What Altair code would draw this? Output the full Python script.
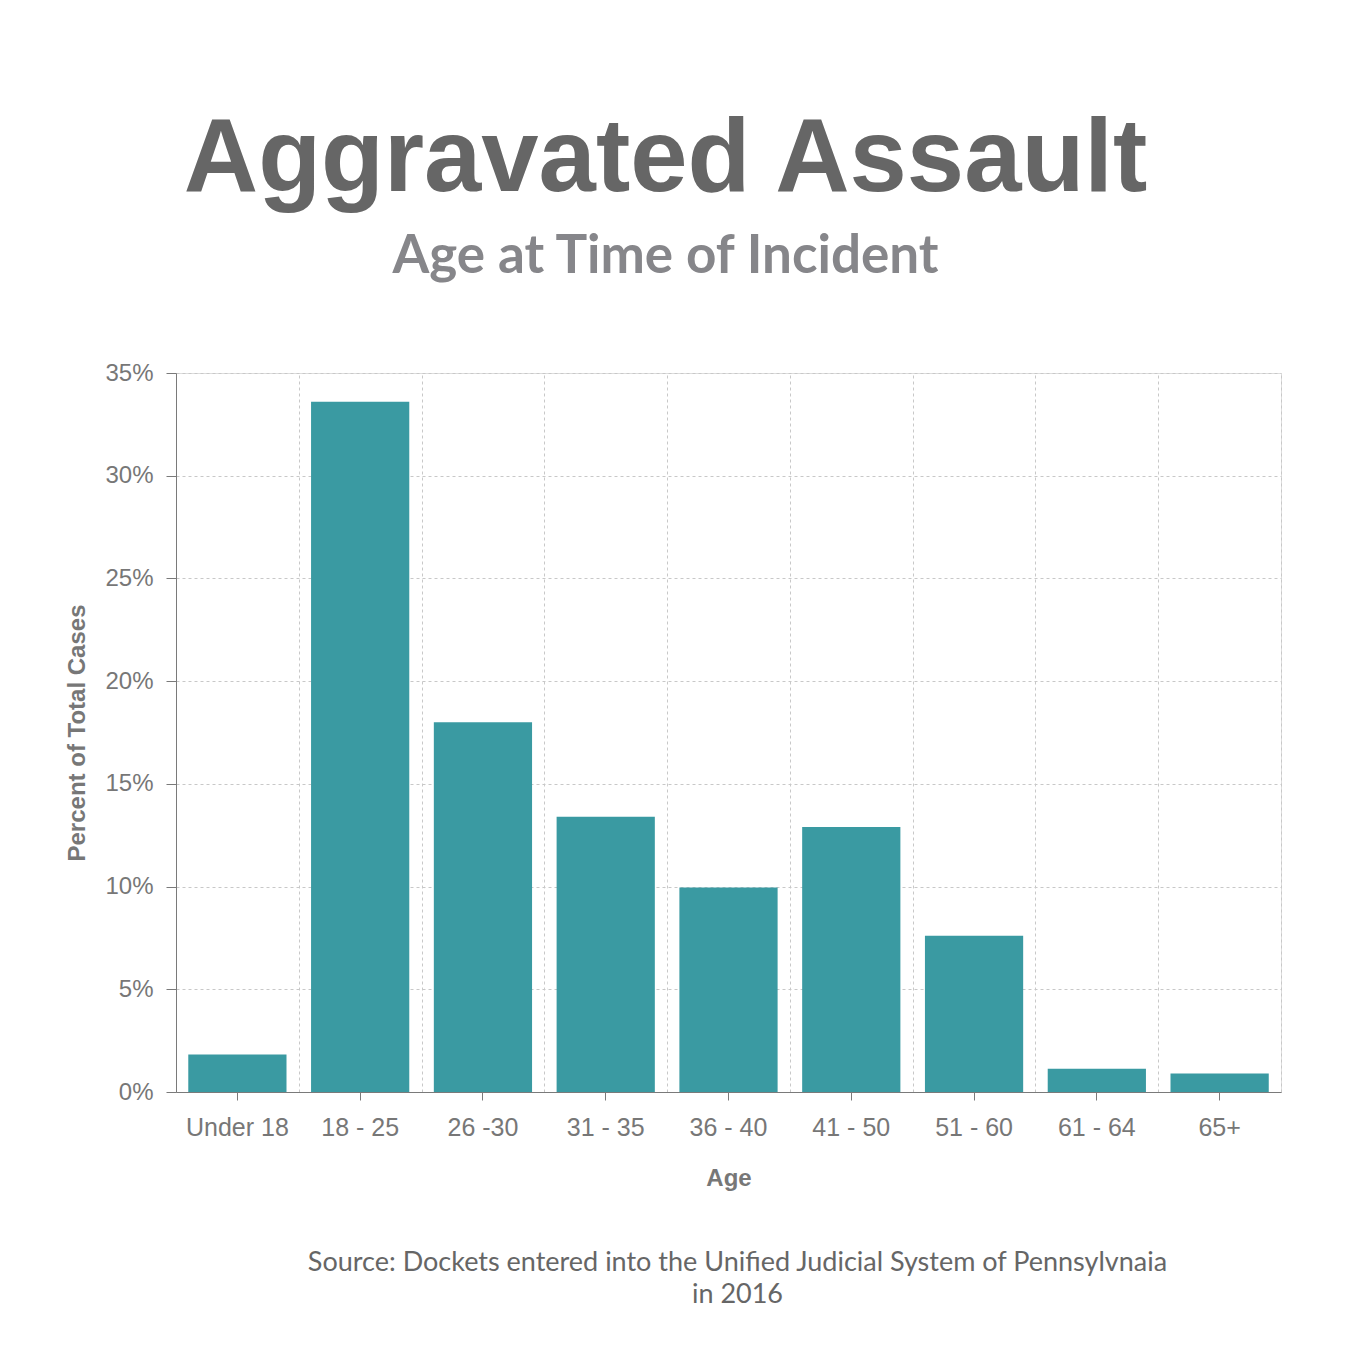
import altair as alt
import pandas as pd

ages = ["Under 18", "18 - 25", "26 -30", "31 - 35", "36 - 40", "41 - 50", "51 - 60", "61 - 64", "65+"]
percent = [1.82, 33.6, 18.0, 13.4, 9.95, 12.9, 7.6, 1.13, 0.9]
y_ticks = [0, 5, 10, 15, 20, 25, 30, 35]

title_text = "Aggravated Assault"
subtitle_text = "Age at Time of Incident"
source_text = ["Source: Dockets entered into the Unified Judicial System of Pennsylvnaia", "in 2016"]

df = pd.DataFrame({"age": ages, "pct": [p / 100 for p in percent]})

GRID = "#c8c8c8"
AXIS = "#7a7a7a"
LABEL = "#777777"

yaxis = alt.Axis(
    format=".0%", values=[v / 100 for v in y_ticks], grid=True, gridDash=[3, 3], gridColor=GRID,
    domainColor=AXIS, tickColor=AXIS, tickSize=10, labelFont="Liberation Sans", labelFontSize=24,
    labelColor=LABEL, labelPadding=13, titleFont="Liberation Sans", titleFontSize=24,
    titleFontWeight="bold", titleColor=LABEL, titlePadding=15,
)
yenc = alt.Y("pct:Q", title="Percent of Total Cases", scale=alt.Scale(domain=[0, 0.35]), axis=yaxis)

bars = alt.Chart(df).mark_bar(color="#3a9aa2").encode(
    x=alt.X("age:N", sort=ages, title="Age", scale=alt.Scale(paddingInner=0.2, paddingOuter=0.1),
            axis=alt.Axis(labelAngle=0, grid=False, domainColor=AXIS, tickColor=AXIS, tickSize=8,
                          labelFont="Liberation Sans", labelFontSize=25, labelColor=LABEL,
                          labelPadding=15, titleFont="Liberation Sans", titleFontSize=24,
                          titleFontWeight="bold", titleColor=LABEL, titlePadding=26)),
    y=yenc,
)

grid = alt.Chart(df).mark_bar(opacity=0).encode(
    x=alt.X("age:N", sort=ages, scale=alt.Scale(paddingInner=0, paddingOuter=0),
            axis=alt.Axis(orient="top", grid=True, tickBand="extent", gridDash=[3, 3], gridColor=GRID,
                          labels=False, ticks=False, domain=False, title=None)),
    y=yenc,
)

inner = alt.layer(grid, bars).resolve_scale(x="independent").resolve_axis(x="independent").properties(
    width=1105, height=719,
    title=alt.TitleParams(
        text=title_text, subtitle=subtitle_text, anchor="middle", frame="group", dx=-63,
        font="Liberation Sans", fontSize=103, fontWeight="bold", color="#666666",
        subtitleFont="Lato", subtitleFontSize=53, subtitleFontWeight="bold", subtitleColor="#86868a",
        subtitlePadding=18, offset=76,
    ),
)

chart = alt.vconcat(inner).properties(
    title=alt.TitleParams(
        text=source_text, orient="bottom", anchor="middle", font="Lato", fontSize=27, dx=64,
        fontWeight="normal", color="#666666", offset=59, lineHeight=32,
    ),
    padding={"left": 57, "top": 100, "right": 20, "bottom": 20},
).configure_view(stroke=None).configure(background="white")

chart.save("out.html", embed_options={"renderer": "svg", "actions": False})
